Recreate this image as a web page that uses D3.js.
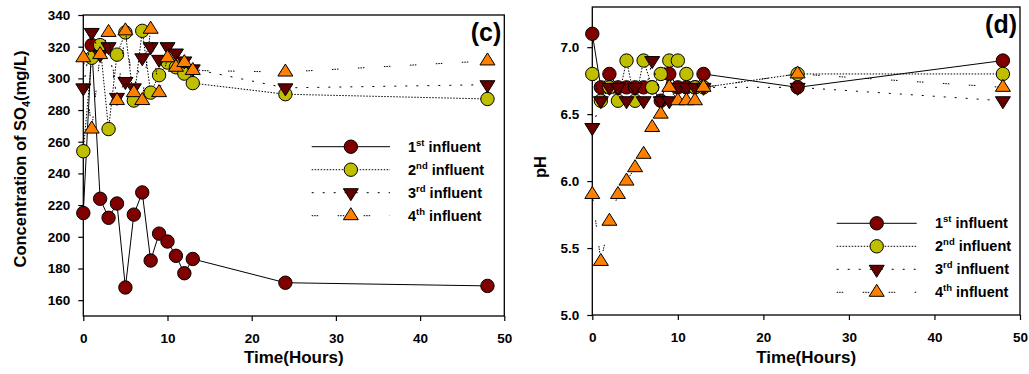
<!DOCTYPE html>
<html>
<head>
<meta charset="utf-8">
<script src="https://cdn.jsdelivr.net/npm/d3@7"></script>
<style>
    body { margin: 0; background: #fff; }
    text { font-family: Arial, 'Liberation Sans', sans-serif; font-weight: bold; }
</style>
</head>
<body>
<svg id="chart" width="1029" height="374"></svg>
<script>
// sampling times (hours)
const hours = [0, 1, 2, 3, 4, 5, 6, 7, 8, 9, 10, 11, 12, 13, 24, 48];

// (c) sulphate, mg/L
const so4First  = [215, 321, 224, 212, 221, 168, 214, 228, 185, 202, 197, 188, 177, 186, 171, 169];
const so4Second = [254, 313, 321, 268, 315, 329, 286, 330, 291, 302, 310, 307, 303, 297, 290, 287];
const so4Third  = [294, 329, 315, 320, 288, 298, 294, 313, 320, 312, 320, 316, 311, 306, 294, 296];
const so4Fourth = [313, 268, 315, 329, 286, 330, 291, 286, 331, 291, 313, 307, 310, 305, 304, 311];

// (d) pH
const phFirst  = [7.1, 6.7, 6.8, 6.7, 6.7, 6.7, 6.7, 6.7, 6.6, 6.8, 6.7, 6.7, 6.7, 6.8, 6.7, 6.9];
const phSecond = [6.8, 6.6, 6.7, 6.6, 6.9, 6.6, 6.9, 6.7, 6.8, 6.9, 6.9, 6.8, 6.7, 6.7, 6.8, 6.8];
const phThird  = [6.4, 6.6, 6.7, 6.7, 6.6, 6.7, 6.6, 6.9, 6.6, 6.6, 6.7, 6.7, 6.7, 6.7, 6.7, 6.6];
const phFourth = [5.9, 5.4, 5.7, 5.9, 6.0, 6.1, 6.2, 6.4, 6.5, 6.7, 6.6, 6.6, 6.6, 6.7, 6.8, 6.7];

// ticks and legend text
const timeTicks = [0, 10, 20, 30, 40, 50];
const so4Ticks = [160, 180, 200, 220, 240, 260, 280, 300, 320, 340];
const phTicks = [5.0, 5.5, 6.0, 6.5, 7.0];
const legendNumbers = ['1', '2', '3', '4'];
const legendSuffixes = ['st', 'nd', 'rd', 'th'];

const seriesStyles = [
    {fill: '#800000', shape: 'circle', dash: null},
    {fill: '#bfbf00', shape: 'circle', dash: '1.5,1.5'},
    {fill: '#640000', shape: 'down', dash: '2,9'},
    {fill: '#ff8000', shape: 'up', dash: '1.5,1,1.5,1,1.5,19.5'}
];

const shapes = {
    circle: 'M6.7,0A6.7,6.7 0 1,1 -6.7,0A6.7,6.7 0 1,1 6.7,0Z',
    up: 'M0,-8L7.5,4L-7.5,4Z',
    down: 'M0,8L7.5,-4L-7.5,-4Z'
};

let svg = d3.select('#chart');

const styleAxis = function(sel) {
    sel.select('.domain').remove();
    sel.selectAll('line').attr('stroke', '#000').attr('stroke-width', 1.2);
    sel.selectAll('text')
        .attr('fill', '#000')
        .style('font-size', '13.5px')
        .style('font-family', 'Arial, "Liberation Sans", sans-serif')
        .style('font-weight', 'bold');
};

const drawPanel = function(cfg) {
    let x = d3.scaleLinear().domain([0, 50]).range([cfg.left, cfg.right]);
    let y = d3.scaleLinear().domain(cfg.yDomain).range([cfg.bottom, cfg.top]);
    let g = svg.append('g');

    g.append('g')
        .attr('transform', 'translate(0,' + cfg.bottom + ')')
        .call(d3.axisBottom(x).tickValues(timeTicks).tickSize(5).tickSizeOuter(0).tickPadding(12))
        .call(styleAxis);

    g.append('g')
        .attr('transform', 'translate(' + cfg.left + ',0)')
        .call(d3.axisLeft(y).tickValues(cfg.yTicks).tickFormat(cfg.yFormat).tickSize(5).tickSizeOuter(0).tickPadding(8))
        .call(styleAxis);

    g.append('rect')
        .attr('x', cfg.left)
        .attr('y', cfg.top)
        .attr('width', cfg.right - cfg.left)
        .attr('height', cfg.bottom - cfg.top)
        .attr('fill', 'none')
        .attr('stroke', '#000')
        .attr('stroke-width', 1.3);

    let line = d3.line()
        .x(function(d, j) {return x(hours[j])})
        .y(function(d) {return y(d)});

    cfg.series.forEach(function(vals, i) {
        let st = seriesStyles[i];
        g.append('path')
            .datum(vals)
            .attr('d', line)
            .attr('fill', 'none')
            .attr('stroke', '#000')
            .attr('stroke-width', 1)
            .attr('stroke-dasharray', st.dash);

        g.selectAll('.mark' + i)
            .data(vals)
            .enter()
            .append('path')
            .attr('class', 'mark' + i)
            .attr('d', shapes[st.shape])
            .attr('transform', function(d, j) {return 'translate(' + x(hours[j]) + ',' + y(d) + ')'})
            .attr('fill', st.fill)
            .attr('stroke', '#000')
            .attr('stroke-width', 1);
    });

    // legend
    let lg = cfg.legend;
    seriesStyles.forEach(function(st, i) {
        let ly = lg.y + i * 23;
        g.append('line')
            .attr('x1', lg.x1).attr('x2', lg.x2)
            .attr('y1', ly).attr('y2', ly)
            .attr('stroke', '#000')
            .attr('stroke-width', 1)
            .attr('stroke-dasharray', st.dash);
        g.append('path')
            .attr('d', shapes[st.shape])
            .attr('transform', 'translate(' + (lg.x1 + lg.x2) / 2 + ',' + ly + ')')
            .attr('fill', st.fill)
            .attr('stroke', '#000');
        let t = g.append('text')
            .attr('x', lg.tx)
            .attr('y', ly + 5)
            .style('font-size', '14.5px');
        t.append('tspan').text(legendNumbers[i]);
        t.append('tspan').attr('dy', -6).style('font-size', '9.5px').text(legendSuffixes[i]);
        t.append('tspan').attr('dy', 6).text(' influent');
    });

    g.append('text')
        .attr('x', cfg.right - 3)
        .attr('y', cfg.tagY)
        .attr('text-anchor', 'end')
        .style('font-size', '25px')
        .text(cfg.tag);

    g.append('text')
        .attr('x', (cfg.left + cfg.right) / 2)
        .attr('y', 363)
        .attr('text-anchor', 'middle')
        .style('font-size', '17px')
        .text('Time(Hours)');

    return g;
};

drawPanel({
    left: 83.3, right: 504.3, top: 15, bottom: 316,
    yDomain: [150, 340], yTicks: so4Ticks, yFormat: d3.format('d'),
    series: [so4First, so4Second, so4Third, so4Fourth],
    legend: {x1: 311.7, x2: 390, tx: 408, y: 146.7},
    tag: '(c)', tagY: 41
});

drawPanel({
    left: 592.3, right: 1020, top: 7, bottom: 315,
    yDomain: [5, 7.3], yTicks: phTicks, yFormat: d3.format('.1f'),
    series: [phFirst, phSecond, phThird, phFourth],
    legend: {x1: 836.7, x2: 916.7, tx: 935, y: 223.3},
    tag: '(d)', tagY: 33
});

let yTitle = svg.append('text')
    .attr('transform', 'translate(25.5,159) rotate(-90)')
    .attr('text-anchor', 'middle')
    .style('font-size', '16.5px');
yTitle.append('tspan').text('Concentration of SO');
yTitle.append('tspan').attr('dy', 4).style('font-size', '11px').text('4');
yTitle.append('tspan').attr('dy', -4).text('(mg/L)');

svg.append('text')
    .attr('transform', 'translate(546,167) rotate(-90)')
    .attr('text-anchor', 'middle')
    .style('font-size', '16.5px')
    .text('pH');
</script>
</body>
</html>
